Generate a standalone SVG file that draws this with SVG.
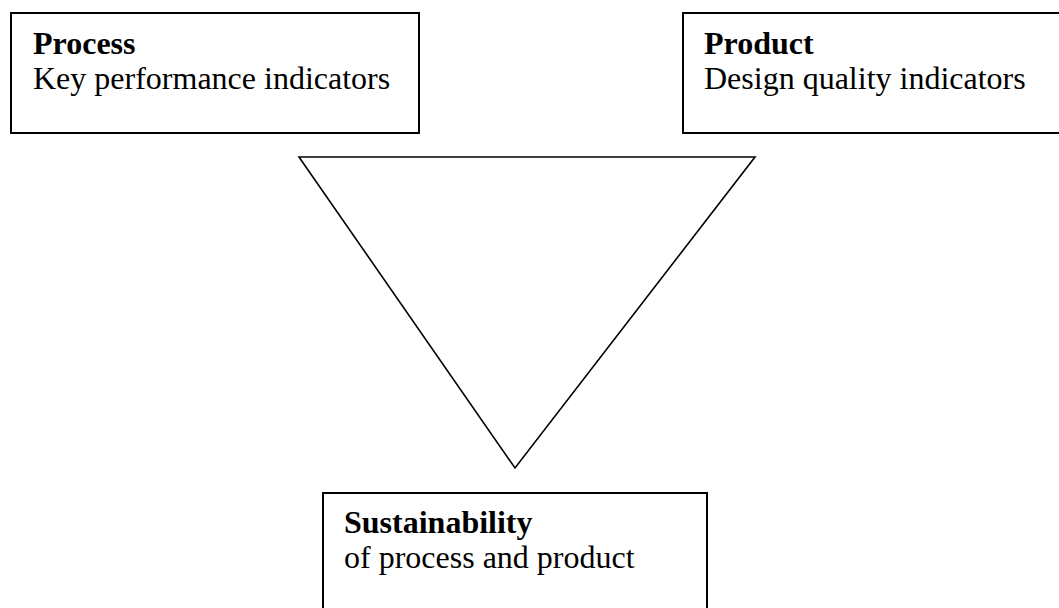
<svg xmlns="http://www.w3.org/2000/svg" width="1059" height="608" viewBox="0 0 1059 608">
  <style>
    .box { fill: #ffffff; stroke: #000000; stroke-width: 2; }
    .tri { fill: #ffffff; stroke: #000000; stroke-width: 1.6; stroke-linejoin: miter; }
    .label { font-family: "Liberation Serif", "Times New Roman", serif; font-size: 32px; fill: #000000; }
    .title { font-weight: bold; }
  </style>
  <rect width="1059" height="608" fill="#ffffff"/>

  <!-- central inverted triangle linking the three areas -->
  <g id="connectors">
    <polygon class="tri" points="299,157 755,157 515,468"/>
  </g>

  <g id="node-process">
    <rect class="box" x="11" y="13" width="408" height="120"/>
    <text class="label title" x="33" y="54">Process</text>
    <text class="label" x="33" y="89">Key performance indicators</text>
  </g>

  <g id="node-product">
    <rect class="box" x="683" y="13" width="390" height="120"/>
    <text class="label title" x="704" y="54">Product</text>
    <text class="label" x="704" y="89">Design quality indicators</text>
  </g>

  <g id="node-sustainability">
    <rect class="box" x="323" y="493" width="384" height="130"/>
    <text class="label title" x="344" y="533">Sustainability</text>
    <text class="label" x="344" y="568">of process and product</text>
  </g>
</svg>
